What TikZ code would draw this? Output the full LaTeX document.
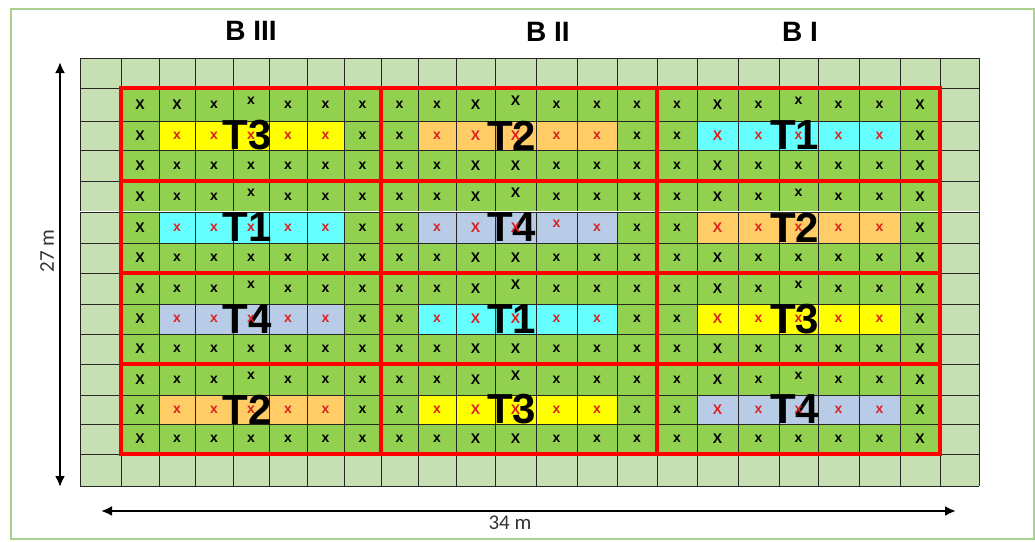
\documentclass[tikz,border=0pt]{standalone}
\usepackage{fontspec}
\setsansfont{Liberation Sans}
\newfontfamily\calibri{Carlito}
\usepackage{tikz}
\usetikzlibrary{arrows.meta}

\definecolor{plotlight}{HTML}{C6E0B4}
\definecolor{plotgreen}{HTML}{92D050}
\definecolor{tyellow}{HTML}{FFFF00}
\definecolor{torange}{HTML}{FFCC66}
\definecolor{tcyan}{HTML}{66FFFF}
\definecolor{tblue}{HTML}{B8CCE8}
\definecolor{xred}{HTML}{DD2020}
\definecolor{framegreen}{HTML}{A9D18E}

% column and row edges of the field (px)
\def\xs{{80,121,159,195,233,269,307,344,381,418,456,495,536,577,617,657,697,738,779,818,859,900,940,979}}
\def\ys{{58,88,121,150,181,212,243,273,304,334,364,395,424,454,486}}

\begin{document}
\begin{tikzpicture}[x=1pt, y=-1pt,
  gridline/.style={draw=black!85, line width=0.9pt},
  redline/.style={draw=red, line width=4pt, line cap=rect},
  xmark/.style={font=\sffamily\bfseries\fontsize{14}{14}\selectfont, inner sep=0pt},
  trt/.style={font=\sffamily\bfseries\fontsize{42}{42}\selectfont, inner sep=0pt},
  blocklab/.style={font=\sffamily\bfseries\fontsize{28}{28}\selectfont, inner sep=0pt},
  dimlab/.style={font=\calibri\fontsize{21}{21}\selectfont, text=black!80, inner sep=0pt},
  dim/.style={{Latex[length=11pt,width=10pt]}-{Latex[length=11pt,width=10pt]}, line width=2.2pt}]
\useasboundingbox (0,0) rectangle (1035,541);
\draw[framegreen, line width=2pt] (11,9) rectangle (1034,539);
% field
\fill[plotlight] (80,58) rectangle (979,486);
\fill[plotgreen] (121,88) rectangle (940,454);
% treatment strips
\foreach \blk/\br/\tc in {0/0/tyellow, 1/0/torange, 2/0/tcyan,
                          0/1/tcyan, 1/1/tblue, 2/1/torange,
                          0/2/tblue, 1/2/tcyan, 2/2/tyellow,
                          0/3/torange, 1/3/tyellow, 2/3/tblue} {
  \pgfmathtruncatemacro\ia{7*\blk+2}
  \pgfmathtruncatemacro\ib{7*\blk+7}
  \pgfmathtruncatemacro\ja{3*\br+2}
  \pgfmathtruncatemacro\jb{3*\br+3}
  \pgfmathsetmacro\xa{\xs[\ia]}
  \pgfmathsetmacro\xb{\xs[\ib]}
  \pgfmathsetmacro\ya{\ys[\ja]}
  \pgfmathsetmacro\yb{\ys[\jb]}
  \fill[\tc] (\xa,\ya) rectangle (\xb,\yb);
}
% grid
\foreach \gx in {80,121,159,195,233,269,307,344,381,418,456,495,536,577,617,657,697,738,779,818,859,900,940,979}
  \draw[gridline] (\gx,58) -- (\gx,486);
\foreach \gy in {58,88,121,150,181,212,243,273,304,334,364,395,424,454,486}
  \draw[gridline] (80,\gy) -- (979,\gy);
\draw[white, line width=1pt] (80,211) -- (979,211);
% plots
\foreach \gx in {121,381,657,940}
  \draw[redline] (\gx,88) -- (\gx,454);
\foreach \gy in {88,181,273,364,454}
  \draw[redline] (121,\gy) -- (940,\gy);
% treatment labels
\foreach \blk/\br/\tn in {0/0/3, 1/0/2, 2/0/1, 0/1/1, 1/1/4, 2/1/2,
                          0/2/4, 1/2/1, 2/2/3, 0/3/2, 1/3/3, 2/3/4} {
  \pgfmathtruncatemacro\ic{7*\blk+4}
  \pgfmathtruncatemacro\id{7*\blk+5}
  \pgfmathtruncatemacro\ja{3*\br+2}
  \pgfmathtruncatemacro\jb{3*\br+3}
  \pgfmathsetmacro\xp{\xs[\ic]}
  \pgfmathsetmacro\xq{\xs[\id]}
  \pgfmathsetmacro\yp{\ys[\ja]}
  \pgfmathsetmacro\yq{\ys[\jb]}
  \pgfmathsetmacro\xc{(\xp+\xq)/2-4}
  \pgfmathsetmacro\yc{(\yp+\yq)/2}
  \node[trt] (t-\blk-\br) at (\xc,\yc) {T\tn};
}
% plants
\foreach \j in {1,...,12} {
  \foreach \i in {1,...,21} {
    \pgfmathtruncatemacro\ii{\i+1}
    \pgfmathtruncatemacro\jj{\j+1}
    \pgfmathsetmacro\xp{\xs[\i]}
    \pgfmathsetmacro\xq{\xs[\ii]}
    \pgfmathsetmacro\yp{\ys[\j]}
    \pgfmathsetmacro\yq{\ys[\jj]}
    \pgfmathsetmacro\cx{(\xp+\xq)/2}
    \pgfmathsetmacro\cy{(\yp+\yq)/2}
    \pgfmathtruncatemacro\k{mod(\j-1,3)}
    \pgfmathtruncatemacro\m{mod(\i-1,7)}
    \pgfmathtruncatemacro\blk{int((\i-1)/7)}
    \pgfmathtruncatemacro\isbig{(\blk==0 && \m==0) || (\blk==1 && (\m==2 || \m==3)) || (\blk==2 && (\m==1 || \m==6)) || (\j==1 && \i==2)}
    \pgfmathtruncatemacro\israised{(\k==0 && \m==3) || (\j==5 && \i==12)}
    \pgfmathtruncatemacro\isred{\k==1 && \m>0 && \m<6}
    \def\mtxt{x}\ifnum\isbig=1 \def\mtxt{X}\fi
    \def\mcol{black}\ifnum\isred=1 \def\mcol{xred}\fi
    \def\mdy{0}\ifnum\israised=1 \def\mdy{4}\fi
    \node[xmark, text=\mcol, yshift=\mdy pt] (c-\i-\j) at (\cx,\cy) {\mtxt};
  }
}
% blocks
\node[blocklab] (b3) at (251,31) {B III};
\node[blocklab] (b2) at (548,32) {B II};
\node[blocklab] (b1) at (800,32) {B I};
% dimensions
\coordinate (ltop) at (60,62);
\coordinate (lbot) at (60,487);
\draw[dim] (ltop) -- (lbot);
\node[dimlab, rotate=90] (lenlab) at (47,251) {27 m};
\coordinate (wleft) at (101,511);
\coordinate (wright) at (956,511);
\draw[dim] (wleft) -- (wright);
\node[dimlab] (widlab) at (510,523) {34 m};
\end{tikzpicture}
\end{document}
